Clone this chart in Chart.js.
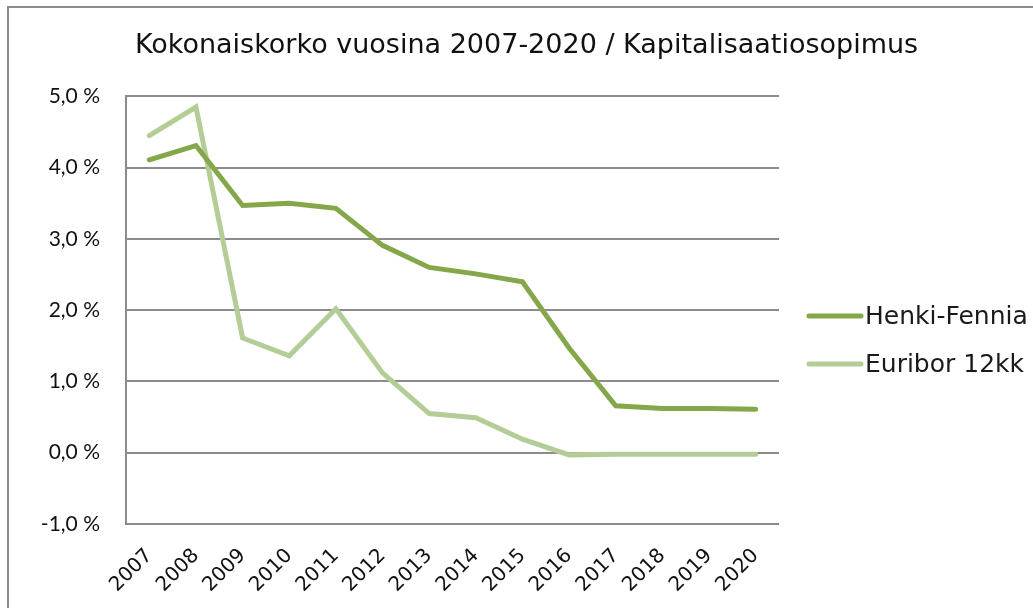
<!DOCTYPE html>
<html>
<head>
<meta charset="utf-8">
<script src="https://cdn.jsdelivr.net/npm/chart.js@4/dist/chart.umd.min.js"></script>
<style>
  html, body { margin: 0; padding: 0; background: #fff; }
  #wrap { width: 1033px; height: 608px; }
</style>
</head>
<body>
<div id="wrap"><canvas id="chart" width="1033" height="608"></canvas></div>
<script>
const years = ['2007', '2008', '2009', '2010', '2011', '2012', '2013', '2014', '2015', '2016', '2017', '2018', '2019', '2020'];
const henkiFennia = [4.11, 4.31, 3.47, 3.50, 3.43, 2.91, 2.60, 2.51, 2.40, 1.47, 0.66, 0.62, 0.62, 0.61];
const euribor12 = [4.45, 4.85, 1.61, 1.36, 2.02, 1.12, 0.55, 0.49, 0.19, -0.03, -0.02, -0.02, -0.02, -0.02];
const yMin = -1;
const yMax = 5;

const WIDE = '"DejaVu Sans", sans-serif';
const NARROW = 'Lato, "Open Sans", sans-serif';
const GRID = '#8c8c8c';

// kehys ja oma selite
const framePlugin = {
  id: 'frame',
  beforeDraw(chart) {
    const ctx = chart.ctx;
    ctx.save();
    ctx.strokeStyle = GRID;
    ctx.lineWidth = 2;
    ctx.beginPath();
    ctx.moveTo(8, 608);
    ctx.lineTo(8, 7);
    ctx.lineTo(1033, 7);
    ctx.stroke();
    ctx.restore();
  },
  afterDraw(chart) {
    const ctx = chart.ctx;
    ctx.save();
    ctx.font = '25px ' + WIDE;
    ctx.textBaseline = 'middle';
    chart.data.datasets.forEach((ds, i) => {
      const y = 316 + i * 48;
      ctx.strokeStyle = ds.borderColor;
      ctx.lineWidth = 5;
      ctx.lineCap = 'round';
      ctx.beginPath();
      ctx.moveTo(809, y);
      ctx.lineTo(861, y);
      ctx.stroke();
      ctx.fillStyle = '#1a1a1a';
      ctx.fillText(ds.label, 865, y + 1);
    });
    ctx.restore();
  }
};

new Chart(document.getElementById('chart'), {
  type: 'line',
  data: {
    labels: years,
    datasets: [{
      label: 'Henki-Fennia',
      data: henkiFennia,
      borderColor: '#84a74a',
      borderWidth: 5,
      borderCapStyle: 'round',
      pointRadius: 0,
      tension: 0
    }, {
      label: 'Euribor 12kk',
      data: euribor12,
      borderColor: '#b4cc95',
      borderWidth: 5,
      borderCapStyle: 'round',
      pointRadius: 0,
      tension: 0
    }]
  },
  options: {
    responsive: false,
    animation: false,
    layout: { padding: { left: 20, right: 0, top: 0, bottom: 0 } },
    plugins: {
      legend: { display: false },
      tooltip: { enabled: false },
      title: {
        display: true,
        text: 'Kokonaiskorko vuosina 2007-2020 / Kapitalisaatiosopimus',
        color: '#111',
        font: { family: WIDE, size: 27, weight: 'normal' },
        padding: { top: 30, bottom: 34 }
      }
    },
    scales: {
      x: {
        offset: true,
        grid: { display: false },
        border: { display: false },
        ticks: {
          color: '#111',
          font: { family: WIDE, size: 20 },
          minRotation: 45,
          maxRotation: 45,
          autoSkip: false,
          padding: 12
        },
        afterFit(scale) { scale.height = 84; }
      },
      y: {
        min: yMin,
        max: yMax,
        grid: { color: GRID, lineWidth: 2, drawTicks: false },
        border: { display: true, color: GRID, width: 2 },
        ticks: {
          stepSize: 1,
          color: '#111',
          font: { family: NARROW, size: 21 },
          padding: 26,
          callback: v => v.toFixed(1).replace('.', ',') + ' %'
        },
        afterFit(scale) { scale.width = 106; }
      },
      y2: {
        position: 'right',
        grid: { display: false },
        border: { display: false },
        ticks: { display: false },
        afterFit(scale) { scale.width = 254; }
      }
    }
  },
  plugins: [framePlugin]
});
</script>
</body>
</html>
